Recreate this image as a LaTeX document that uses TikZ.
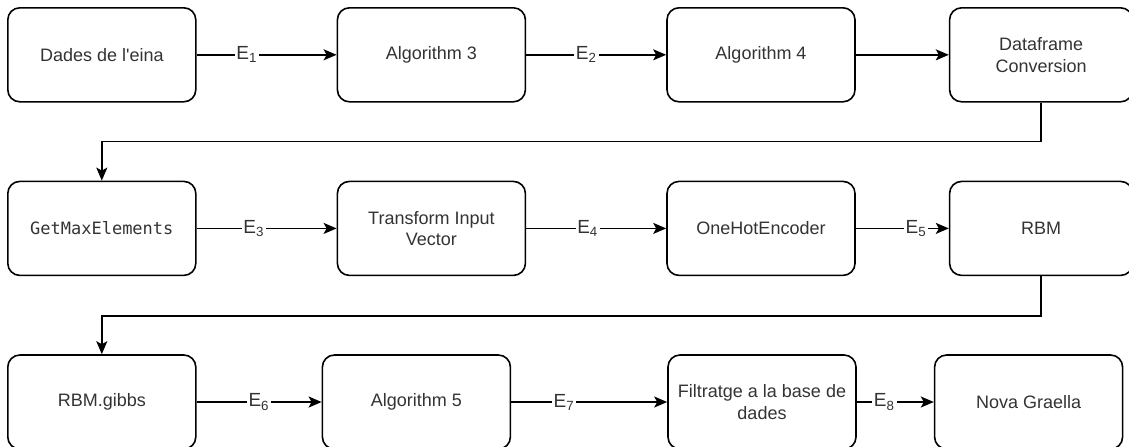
\documentclass[tikz,border=0pt]{standalone}
\usepackage{fontspec}
\setmainfont{Liberation Sans}
\setmonofont{DejaVu Sans Mono}
\usetikzlibrary{positioning,arrows.meta}
\tikzset{
  >={Stealth[length=6.5pt,width=5.5pt,inset=1.5pt]},
  block/.style={draw, rounded corners=6pt, minimum width=94pt, minimum height=47pt,
    inner sep=2pt, align=center, text=black!80, font=\fontsize{9}{10.8}\selectfont},
  narrow/.style={minimum width=91.5pt},
  elabel/.style={fill=white, inner sep=0.8pt, text=black!80, font=\fontsize{9.5}{11}\selectfont},
}
\newcommand{\lbl}[1]{E\textsubscript{#1}}

\begin{document}
\begin{tikzpicture}[->, line width=0.8pt, node distance=70pt]
    \useasboundingbox (0,0) rectangle (564.5pt,-223pt);
    % first row
    \node[block, anchor=north west] (eina) at (3.5pt,-3.5pt) {Dades de l\textquotesingle eina};
    \node[block]          (alg3)   [right=of eina]        {Algorithm 3};
    \node[block]          (alg4)   [right=of alg3]        {Algorithm 4};
    \node[block, narrow]  (conv)   [right=46.5pt of alg4] {Dataframe\\Conversion};
    % second row
    \node[block]          (maxel)  [below=39pt of eina]   {\fontsize{8.5}{10}\ttfamily GetMaxElements};
    \node[block]          (trans)  [right=of maxel]       {Transform Input\\Vector};
    \node[block]          (onehot) [right=of trans]       {OneHotEncoder};
    \node[block, narrow]  (rbm)    [right=46.5pt of onehot] {RBM};
    % third row
    \node[block]          (gibbs)  [below=39pt of maxel]  {RBM.gibbs};
    \node[block]          (alg5)   [right=62.5pt of gibbs] {Algorithm 5};
    \node[block]          (filt)   [right=78pt of alg5]   {Filtratge a la base de\\dades};
    \node[block]          (nova)   [right=38.5pt of filt] {Nova Graella};
    \path
      (eina)   edge node[elabel, pos=0.36] {\lbl{1}} (alg3)
      (alg3)   edge node[elabel, pos=0.43] {\lbl{2}} (alg4)
      (alg4)   edge (conv)
      (maxel)  edge node[elabel, pos=0.41] {\lbl{3}} (trans)
      (trans)  edge node[elabel, pos=0.44] {\lbl{4}} (onehot)
      (onehot) edge node[elabel, pos=0.65] {\lbl{5}} (rbm)
      (gibbs)  edge node[elabel, pos=0.5]  {\lbl{6}} (alg5)
      (alg5)   edge node[elabel, pos=0.34] {\lbl{7}} (filt)
      (filt)   edge node[elabel, pos=0.36] {\lbl{8}} (nova);
    \draw (conv.south) -- ++(0,-19.5pt) -| (maxel.north);
    \draw (rbm.south) -- ++(0,-20pt) -| (gibbs.north);
  \end{tikzpicture}
\end{document}
